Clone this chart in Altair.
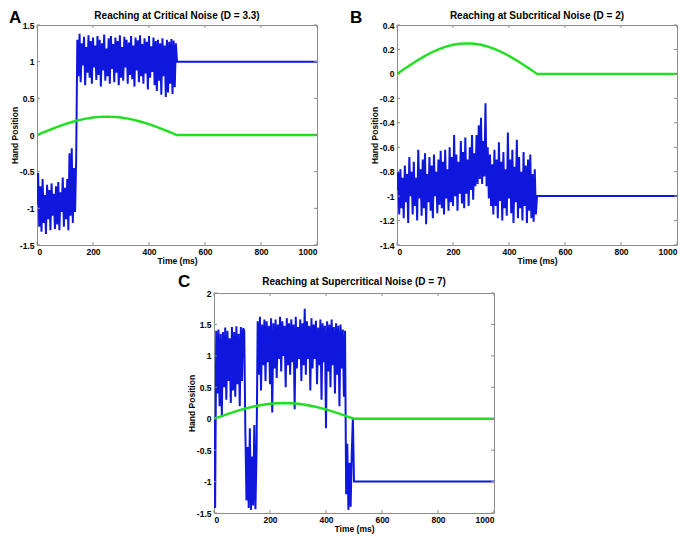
import altair as alt
import pandas as pd

FONT = "Liberation Sans"
BLUE = "#1017dc"
GREEN = "#1fe01f"
BOX = "#8c8c8c"
W, H = 280, 220

X_TICKS = [0, 200, 400, 600, 800, 1000]
A_YTICKS = [-1.5, -1, -0.5, 0, 0.5, 1, 1.5]
B_YTICKS = [-1.4, -1.2, -1, -0.8, -0.6, -0.4, -0.2, 0, 0.2, 0.4]
C_YTICKS = [-1.5, -1, -0.5, 0, 0.5, 1, 1.5, 2]

# sampling grid of the noisy hand traces (ms), then the settled part
TIME_NOISY = list(range(0, 500, 4))
TIME_END = [500, 1000]

# target trajectory (green)
TIME_TARGET = [0, 25, 50, 75, 100, 125, 150, 175, 200, 225, 250, 275, 300,
               325, 350, 375, 400, 425, 450, 475, 500, 1000]
TARGET = [0.0, 0.039, 0.077, 0.113, 0.147, 0.177, 0.202, 0.223, 0.238, 0.247,
          0.25, 0.247, 0.238, 0.223, 0.202, 0.177, 0.147, 0.113, 0.077, 0.039,
          0.0, 0.0]

# Panel A: critical noise (D = 3.3)
A_NOISY = [
    -0.95, -0.52, -1.25, -0.70, -1.32, -0.60, -1.20, -0.82, -1.35, -0.68,
    -1.15, -0.75, -1.30, -0.66, -1.10, -0.80, -1.28, -0.70, -1.22, -0.64,
    -1.30, -0.78, -1.05, -0.58, -1.25, -0.72, -1.15, -0.60, -1.30, -0.25,
    -1.10, -0.18, -1.20, -0.45, -1.05, -0.30, 1.30, 0.80, 1.38, 0.72,
    1.25, 0.95, 1.34, 0.68, 1.20, 0.85, 1.36, 0.78, 1.28, 0.70,
    1.33, 0.92, 1.22, 0.75, 1.35, 0.82, 1.30, 0.66, 1.25, 0.88,
    1.37, 0.74, 1.18, 0.80, 1.32, 0.70, 1.35, 0.90, 1.24, 0.72,
    1.33, 0.85, 1.28, 0.68, 1.36, 0.78, 1.20, 0.74, 1.34, 0.92,
    1.30, 0.70, 1.26, 0.82, 1.35, 0.76, 1.22, 0.66, 1.33, 0.88,
    1.29, 0.72, 1.36, 0.80, 1.24, 0.70, 1.32, 0.84, 1.27, 0.62,
    1.35, 0.78, 1.21, 0.86, 1.33, 0.68, 1.28, 0.60, 1.30, 0.74,
    1.25, 0.55, 1.32, 0.80, 1.22, 0.52, 1.30, 0.58, 1.27, 0.70,
    1.31, 0.56, 1.29, 0.65, 1.25,
]
A_END = [1.0, 1.0]

# Panel B: subcritical noise (D = 2)
B_NOISY = [
    -0.95, -0.80, -1.15, -0.78, -1.10, -0.85, -1.18, -0.75, -1.05, -0.82,
    -1.22, -0.68, -1.00, -0.80, -1.15, -0.72, -1.08, -0.85, -1.20, -0.62,
    -1.02, -0.78, -1.16, -0.70, -1.10, -0.65, -1.23, -0.82, -1.05, -0.68,
    -1.12, -0.75, -1.18, -0.66, -1.00, -0.80, -1.14, -0.70, -1.07, -0.63,
    -1.10, -0.72, -1.15, -0.62, -1.02, -0.78, -1.12, -0.60, -1.05, -0.68,
    -1.08, -0.50, -1.00, -0.66, -1.12, -0.72, -0.98, -0.55, -1.06, -0.64,
    -1.10, -0.52, -0.98, -0.70, -1.08, -0.60, -0.95, -0.50, -1.03, -0.65,
    -0.92, -0.50, -0.90, -0.42, -0.86, -0.36, -0.90, -0.55, -0.84, -0.24,
    -0.92, -0.60, -1.02, -0.66, -1.08, -0.74, -1.15, -0.62, -1.08, -0.70,
    -1.18, -0.56, -1.04, -0.72, -1.20, -0.64, -1.10, -0.78, -1.16, -0.48,
    -1.02, -0.70, -1.14, -0.62, -1.22, -0.76, -1.05, -0.54, -1.18, -0.68,
    -1.10, -0.80, -1.20, -0.64, -1.08, -0.75, -1.22, -0.70, -1.12, -0.66,
    -1.18, -0.82, -1.21, -0.78, -1.15,
]
B_END = [-1.0, -1.0]

# Panel C: supercritical noise (D = 7)
C_NOISY = [
    0.0, -1.42, 1.40, 0.40, 1.42, 0.20, 1.35, 0.05, 1.38, 0.50,
    1.45, 0.30, 1.40, 0.60, 1.28, 0.25, 1.46, 0.45, 1.38, 0.35,
    1.47, 0.55, 1.35, 0.20, 1.46, 0.60, 1.44, 1.40, -0.20, -1.30,
    -0.45, -1.42, -0.15, -1.45, -0.60, -1.38, -0.10, -1.44, -0.50, 1.55,
    0.70, 1.62, 0.45, 1.50, 0.85, 1.58, 0.60, 1.55, 0.90, 1.48,
    0.55, 1.60, 0.10, 1.52, 0.80, 1.58, 0.65, 1.50, 0.95, 1.62,
    0.75, 1.55, 1.00, 1.48, 0.50, 1.60, 0.85, 1.52, 0.70, 1.58,
    0.90, 1.50, 0.15, 1.62, 0.80, 1.46, 0.95, 1.58, 0.60, 1.52,
    0.85, 1.75, 0.70, 1.55, 0.95, 1.48, 0.45, 1.60, 0.80, 1.50,
    0.95, 1.56, 0.55, 1.45, 0.85, 1.58, 0.30, 1.52, 0.90, 1.48,
    -0.15, 1.55, 0.75, 1.50, 0.50, 1.58, 0.85, 1.46, 0.40, 1.52,
    0.70, 1.48, 0.20, 1.50, 0.80, 1.42, 0.35, 1.40, -1.20, -0.40,
    -1.45, -0.70, -1.40, -0.55, 0.02,
]
C_END = [-1.0, -1.0]


def panel(letter, letter_x, letter_y, title, title_y, noisy, end, yticks, ydomain):
    blue_df = pd.DataFrame({"t": TIME_NOISY + TIME_END, "v": noisy + end})
    green_df = pd.DataFrame({"t": TIME_TARGET, "v": TARGET})
    xt_df = pd.DataFrame({"t": X_TICKS})
    yt_df = pd.DataFrame({"v": yticks})
    lab_df = pd.DataFrame({"s": [letter], "title": [title]})

    x = alt.X("t:Q", scale=alt.Scale(domain=[0, 1000], nice=False, zero=False),
              axis=alt.Axis(values=X_TICKS, title="Time (ms)", grid=False,
                            domain=False, ticks=False, labelPadding=2,
                            titlePadding=1, labelExpr="'' + datum.value",
                            labelFont=FONT, labelFontSize=8.5,
                            labelFontWeight="bold", labelColor="black",
                            titleFont=FONT, titleFontSize=8.5,
                            titleFontWeight="bold", titleColor="black"))
    y = alt.Y("v:Q", scale=alt.Scale(domain=ydomain, nice=False, zero=False),
              axis=alt.Axis(values=yticks, title="Hand Position", grid=False,
                            domain=False, ticks=False, labelPadding=3,
                            titlePadding=0, labelExpr="'' + datum.value",
                            labelFont=FONT, labelFontSize=8.5,
                            labelFontWeight="bold", labelColor="black",
                            titleFont=FONT, titleFontSize=8.5,
                            titleFontWeight="bold", titleColor="black"))

    blue = alt.Chart(blue_df).mark_line(color=BLUE, strokeWidth=2, clip=True).encode(x=x, y=y)
    green = alt.Chart(green_df).mark_line(color=GREEN, strokeWidth=2.4, clip=True).encode(x=x, y=y)
    top_t = alt.Chart(xt_df).mark_rule(color=BOX, strokeWidth=1).encode(
        x=x, y=alt.value(0), y2=alt.value(3))
    bot_t = alt.Chart(xt_df).mark_rule(color=BOX, strokeWidth=1).encode(
        x=x, y=alt.value(H - 3), y2=alt.value(H))
    left_t = alt.Chart(yt_df).mark_rule(color=BOX, strokeWidth=1).encode(
        y=y, x=alt.value(0), x2=alt.value(3))
    right_t = alt.Chart(yt_df).mark_rule(color=BOX, strokeWidth=1).encode(
        y=y, x=alt.value(W - 3), x2=alt.value(W))
    lab = alt.Chart(lab_df).mark_text(font=FONT, fontSize=17, fontWeight="bold",
                                      align="left", baseline="top",
                                      color="black").encode(
        text="s:N", x=alt.value(letter_x), y=alt.value(letter_y))
    ttl = alt.Chart(lab_df).mark_text(font=FONT, fontSize=10, fontWeight="bold",
                                      align="center", baseline="alphabetic",
                                      color="black").encode(
        text="title:N", x=alt.value(W / 2), y=alt.value(title_y))
    return alt.layer(blue, green, top_t, bot_t, left_t, right_t, lab, ttl).properties(
        width=W, height=H)


pa = panel("A", -28, -15, "Reaching at Critical Noise (D = 3.3)", -6,
           A_NOISY, A_END, A_YTICKS, [-1.5, 1.5])
pb = panel("B", -47, -15, "Reaching at Subcritical Noise (D = 2)", -6,
           B_NOISY, B_END, B_YTICKS, [-1.4, 0.4])
pc = panel("C", -36, -19, "Reaching at Supercritical Noise (D = 7)", -8,
           C_NOISY, C_END, C_YTICKS, [-1.5, 2])

spacer = alt.Chart(pd.DataFrame({"s": [0]})).mark_rule(strokeOpacity=0).encode(
    x=alt.value(1), y=alt.value(1), y2=alt.value(2)
).properties(width=139, height=10, view=alt.ViewBackground(stroke="transparent"))

row1 = alt.hconcat(pa, pb, spacing=31)
row2 = alt.hconcat(spacer, pc, spacing=0)

chart = alt.vconcat(row1, row2, spacing=6).properties(padding=0).configure_view(
    stroke=BOX, strokeWidth=1)

chart.save("out.html", embed_options={"renderer": "svg", "actions": False})
